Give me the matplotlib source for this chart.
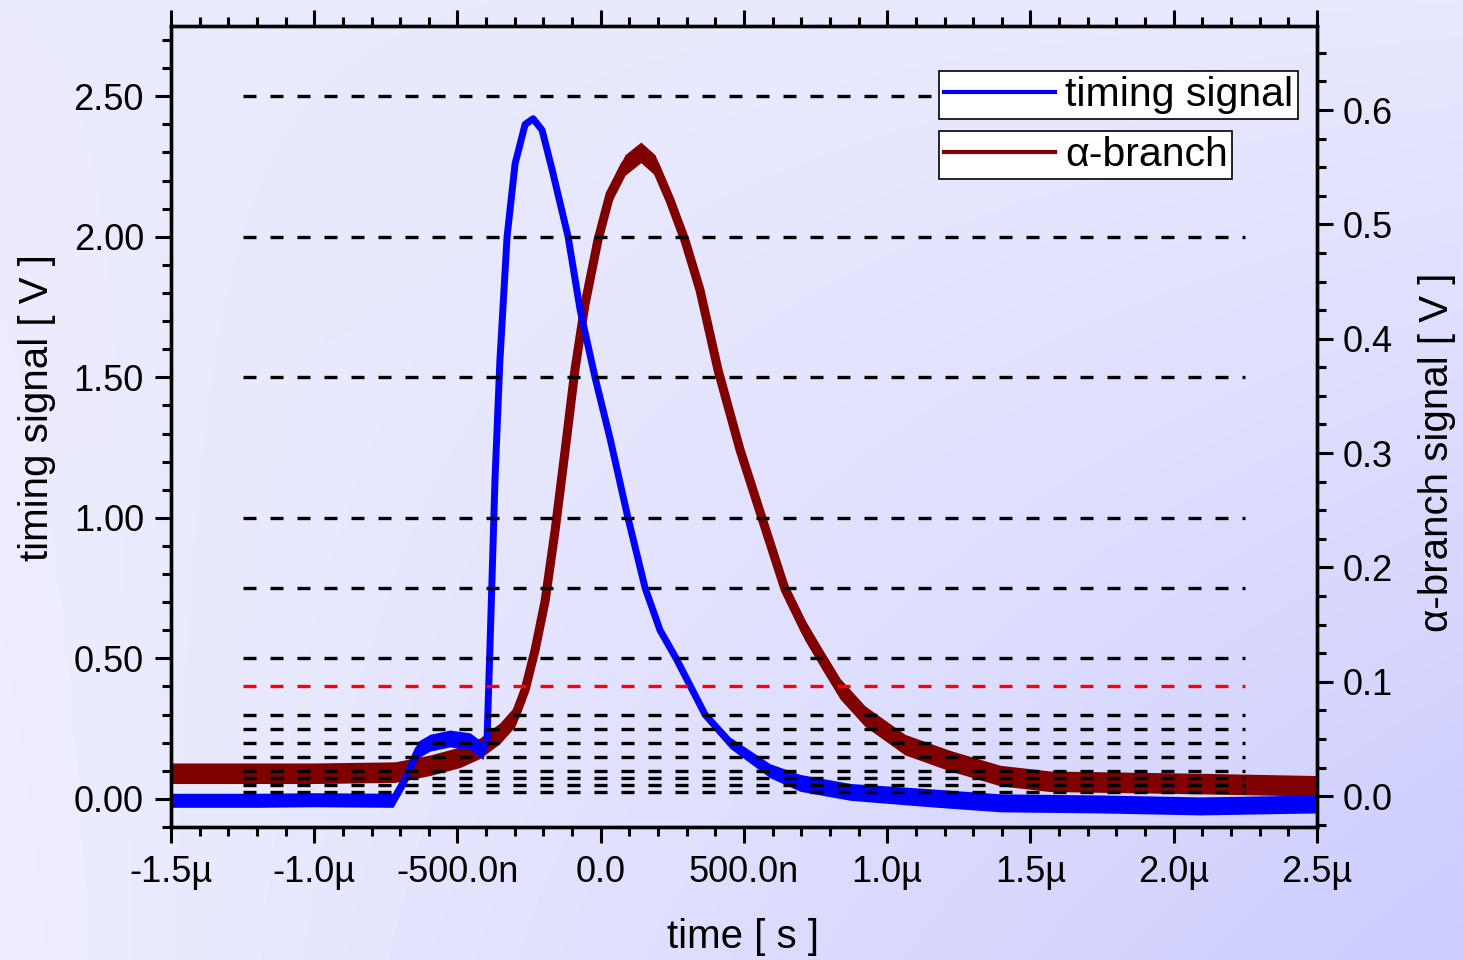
import numpy as np
import matplotlib.pyplot as plt
from matplotlib.lines import Line2D

plt.rcParams['font.family'] = ['Liberation Sans', 'DejaVu Sans']

# timing signal (left axis): time in µs, value in V, noise half-width in V
t_timing = [-1.5, -1.2, -1.0, -0.725, -0.683, -0.638, -0.596, -0.526, -0.456, -0.411,
            -0.397, -0.387, -0.369, -0.352, -0.327, -0.299, -0.264, -0.236, -0.205,
            -0.17, -0.114, -0.072, -0.02, 0.033, 0.095, 0.155, 0.207, 0.263, 0.364,
            0.451, 0.591, 0.696, 0.87, 1.149, 1.394, 1.743, 2.092, 2.5]
v_timing = [-0.005, -0.005, -0.003, -0.005, 0.07, 0.175, 0.2, 0.215, 0.205, 0.17,
            0.21, 0.53, 1.14, 1.56, 2.0, 2.26, 2.40, 2.42, 2.38,
            2.24, 2.0, 1.74, 1.5, 1.28, 1.0, 0.75, 0.6, 0.5, 0.3,
            0.2, 0.1, 0.057, 0.025, 0.004, -0.014, -0.018, -0.025, -0.018]
n_timing = [0.025, 0.025, 0.025, 0.025, 0.025, 0.03, 0.03, 0.03, 0.03, 0.03,
            0.01, 0.01, 0.01, 0.01, 0.01, 0.01, 0.012, 0.012, 0.012,
            0.01, 0.01, 0.01, 0.01, 0.01, 0.012, 0.015, 0.015, 0.015, 0.015,
            0.02, 0.025, 0.03, 0.03, 0.032, 0.032, 0.032, 0.032, 0.032]

# alpha-branch signal (right axis)
t_alpha = [-1.5, -1.0, -0.718, -0.596, -0.491, -0.421, -0.352, -0.299, -0.264, -0.229,
           -0.194, -0.159, -0.124, -0.09, -0.055, -0.01, 0.032, 0.085, 0.14, 0.189,
           0.242, 0.294, 0.346, 0.409, 0.486, 0.563, 0.643, 0.713, 0.772, 0.835,
           0.922, 1.062, 1.219, 1.394, 1.568, 2.092, 2.5]
v_alpha = [0.020, 0.020, 0.021, 0.027, 0.034, 0.042, 0.055, 0.070, 0.093, 0.128,
           0.171, 0.233, 0.303, 0.373, 0.430, 0.486, 0.526, 0.552, 0.563, 0.552,
           0.521, 0.486, 0.443, 0.373, 0.303, 0.243, 0.181, 0.145, 0.120, 0.094,
           0.070, 0.045, 0.031, 0.018, 0.013, 0.011, 0.009]
n_alpha = 0.009

# threshold levels (left axis)
levels_black = [0.025, 0.05, 0.075, 0.1, 0.15, 0.2, 0.25, 0.3, 0.5, 0.75, 1.0, 1.5, 2.0, 2.5]
level_red = 0.4
level_start, level_end = -1.25, 2.25

xticks = [-1.5, -1.0, -0.5, 0.0, 0.5, 1.0, 1.5, 2.0, 2.5]
xtick_labels = ['-1.5µ', '-1.0µ', '-500.0n', '0.0', '500.0n', '1.0µ', '1.5µ', '2.0µ', '2.5µ']
yticks_left = [0.0, 0.5, 1.0, 1.5, 2.0, 2.5]
yticks_right = [0.0, 0.1, 0.2, 0.3, 0.4, 0.5, 0.6]

W, H = 1463, 960
fig = plt.figure(figsize=(W / 100, H / 100), dpi=100)

# background gradient
bg = fig.add_axes([0, 0, 1, 1])
tl = np.array([0xEB, 0xEB, 0xFD]) / 255
tr = np.array([0xE8, 0xE8, 0xFF]) / 255
bl = np.array([0xEE, 0xEE, 0xFF]) / 255
br = np.array([0xCC, 0xCC, 0xFF]) / 255
u = np.linspace(0, 1, 200)[None, :, None]
v = np.linspace(0, 1, 200)[:, None, None]
grad = (1 - u) * (1 - v) * tl + u * (1 - v) * tr + (1 - u) * v * bl + u * v * br
bg.imshow(grad, aspect='auto', extent=(0, 1, 0, 1), interpolation='bilinear')
bg.axis('off')
bg.set_zorder(-5)

left, right = 171 / W, 1317 / W
bottom, top = 1 - 827 / H, 1 - 26 / H
ax = fig.add_axes([left, bottom, right - left, top - bottom])
ax2 = ax.twinx()
ax.set_zorder(ax2.get_zorder() + 1)
ax.patch.set_visible(False)
ax2.patch.set_visible(False)

red = '#800000'
blue = '#0000FF'

ta = np.array(t_alpha)
va = np.array(v_alpha)
ax2.fill_between(ta, va - n_alpha, va + n_alpha, color=red, lw=0)
ax2.plot(ta, va, color=red, lw=6.5, solid_joinstyle='round')

tt = np.array(t_timing)
vt = np.array(v_timing)
nt = np.array(n_timing)
ax.fill_between(tt, vt - nt, vt + nt, color=blue, lw=0, zorder=2)
ax.plot(tt, vt, color=blue, lw=5, zorder=2, solid_joinstyle='round')

for lev in levels_black:
    ax.plot([level_start, level_end], [lev, lev], color='black', lw=2.4,
            dashes=(3.9, 4.2), zorder=3)
ax.plot([level_start, level_end], [level_red, level_red], color='red', lw=2.4,
        dashes=(3.9, 4.2), zorder=3)

ax.set_xlim(-1.5, 2.5)
ax.set_ylim(-0.1, 2.75)
ax2.set_ylim(-0.027, 0.6735)

ax.set_xticks(xticks)
ax.set_xticklabels(xtick_labels)
ax.set_xticks(np.arange(-1.5, 2.51, 0.1), minor=True)
ax.set_yticks(yticks_left)
ax.set_yticklabels(['%.2f' % y for y in yticks_left])
ax.set_yticks(np.arange(-0.1, 2.751, 0.1), minor=True)
ax2.set_yticks(yticks_right)
ax2.set_yticklabels(['%.1f' % y for y in yticks_right])
ax2.set_yticks(np.arange(-0.025, 0.6736, 0.025), minor=True)

for a in (ax, ax2):
    for s in a.spines.values():
        s.set_linewidth(2.4)
ax.tick_params(which='both', direction='out', width=2.2, top=True, right=False,
               labelsize=26, pad=8)
ax.tick_params(which='major', length=11.5)
ax.tick_params(which='minor', length=6.5)
ax.tick_params(axis='x', pad=9)
ax2.tick_params(which='both', direction='out', width=2.2, labelsize=26, pad=7)
ax2.tick_params(which='major', length=11.5)
ax2.tick_params(which='minor', length=6.5)

fig.text(37 / W, 1 - 408 / H, 'timing signal [ V ]', rotation=90,
         ha='center', va='center', fontsize=29)
fig.text(1437 / W, 1 - 452 / H, 'α-branch signal [ V ]', rotation=90,
         ha='center', va='center', fontsize=29)
fig.text(743 / W, 1 - 937 / H, 'time [ s ]', ha='center', va='center', fontsize=29)

leg_kw = dict(loc='upper left', bbox_transform=fig.transFigure, fontsize=29.5,
              frameon=True, fancybox=False, framealpha=1, edgecolor='black',
              borderpad=0.12, handlelength=2.7, handletextpad=0.25, borderaxespad=0)
leg1 = ax.legend([Line2D([], [], color=blue, lw=3)], ['timing signal'],
                 bbox_to_anchor=(939 / W, 1 - 71 / H), **leg_kw)
leg1.get_frame().set_linewidth(1.2)
ax.add_artist(leg1)
leg2 = ax.legend([Line2D([], [], color=red, lw=3)], ['α-branch'],
                 bbox_to_anchor=(939 / W, 1 - 131 / H), **leg_kw)
leg2.get_frame().set_linewidth(1.2)

fig.savefig('out.png', dpi=100)
